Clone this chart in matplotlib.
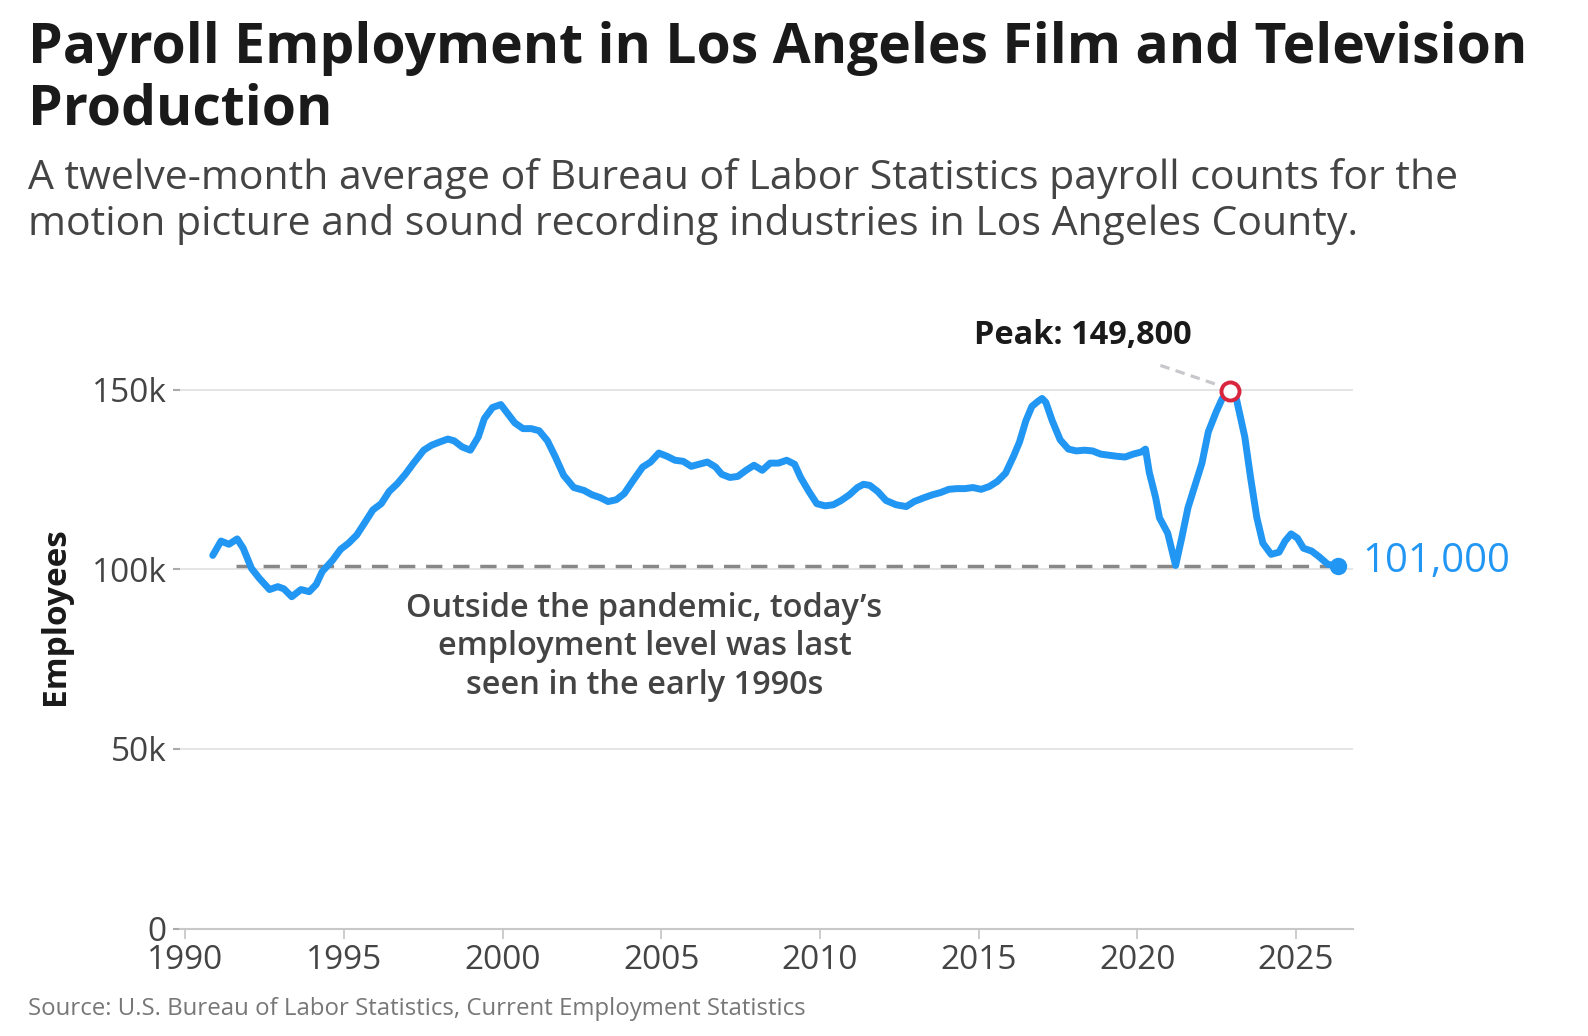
import matplotlib
matplotlib.use("Agg")
import matplotlib.pyplot as plt
from matplotlib.ticker import FuncFormatter

plt.rcParams['font.family'] = ['Open Sans', 'DejaVu Sans']

# twelve-month average
years = [1990.86, 1991.12, 1991.37, 1991.63, 1991.82, 1992.08, 1992.33, 1992.65, 1992.91, 1993.1,
         1993.35, 1993.64, 1993.9, 1994.12, 1994.31, 1994.63, 1994.89, 1995.14, 1995.4, 1995.65,
         1995.91, 1996.17, 1996.42, 1996.68, 1996.93, 1997.19, 1997.51, 1997.76, 1998.02, 1998.27,
         1998.47, 1998.72, 1998.98, 1999.23, 1999.42, 1999.68, 1999.94, 2000.13, 2000.38, 2000.64,
         2000.9, 2001.15, 2001.41, 2001.66, 2001.92, 2002.24, 2002.56, 2002.81, 2003.07, 2003.32,
         2003.58, 2003.83, 2004.09, 2004.41, 2004.66, 2004.92, 2005.18, 2005.43, 2005.69, 2005.94,
         2006.2, 2006.45, 2006.71, 2006.9, 2007.16, 2007.41, 2007.67, 2007.92, 2008.18, 2008.43,
         2008.69, 2008.95, 2009.2, 2009.39, 2009.65, 2009.9, 2010.16, 2010.42, 2010.67, 2010.93,
         2011.18, 2011.37, 2011.57, 2011.82, 2012.08, 2012.4, 2012.72, 2012.97, 2013.29, 2013.55,
         2013.8, 2014.06, 2014.31, 2014.57, 2014.82, 2015.08, 2015.34, 2015.59, 2015.85, 2016.1,
         2016.29, 2016.49, 2016.68, 2016.87, 2017.0, 2017.12, 2017.32, 2017.57, 2017.83, 2018.08,
         2018.34, 2018.59, 2018.85, 2019.1, 2019.36, 2019.62, 2019.87, 2020.13, 2020.26, 2020.38,
         2020.58, 2020.7, 2020.96, 2021.21, 2021.4, 2021.6, 2021.85, 2022.04, 2022.24, 2022.49,
         2022.68, 2022.91, 2023.13, 2023.39, 2023.58, 2023.77, 2023.96, 2024.22, 2024.47, 2024.66,
         2024.85, 2025.05, 2025.24, 2025.5, 2025.75, 2026.01, 2026.33]
employees = [103.9, 107.9, 107.0, 108.5, 105.9, 100.3, 97.5, 94.4, 95.2, 94.6,
             92.4, 94.4, 93.8, 95.8, 99.4, 102.5, 105.6, 107.3, 109.6, 113.0,
             116.6, 118.3, 121.7, 123.9, 126.5, 129.6, 133.2, 134.6, 135.5, 136.3,
             135.8, 134.1, 133.2, 136.9, 142.0, 145.1, 145.9, 143.7, 140.8, 139.2,
             139.2, 138.6, 135.8, 131.3, 126.2, 122.8, 122.0, 120.8, 120.0, 118.9,
             119.4, 121.1, 124.5, 128.5, 129.9, 132.4, 131.5, 130.4, 130.1, 128.7,
             129.3, 129.9, 128.5, 126.5, 125.6, 125.9, 127.6, 129.0, 127.6, 129.6,
             129.6, 130.4, 129.3, 125.6, 121.7, 118.3, 117.7, 118.0, 119.2, 120.8,
             122.8, 123.7, 123.4, 121.7, 119.2, 118.0, 117.5, 118.9, 120.0, 120.8,
             121.4, 122.3, 122.5, 122.5, 122.8, 122.3, 123.1, 124.5, 126.8, 131.5,
             135.5, 141.4, 145.4, 146.8, 147.6, 146.5, 141.4, 136.1, 133.5, 133.0,
             133.2, 133.0, 132.1, 131.8, 131.5, 131.3, 132.1, 132.7, 133.5, 127.0,
             120.0, 114.4, 110.1, 101.1, 108.7, 117.2, 124.2, 129.6, 138.3, 143.9,
             147.6, 149.8, 147.3, 136.9, 125.1, 114.4, 107.3, 104.2, 104.8, 107.9,
             109.9, 108.7, 105.9, 105.1, 103.4, 101.4, 101.0]
employees = [v * 1000 for v in employees]

peak_year, peak_value = 2022.91, 149800
latest_value = 101000
ref_start = 1991.6

x_ticks = [1990, 1995, 2000, 2005, 2010, 2015, 2020, 2025]
y_ticks = [0, 50000, 100000, 150000]

blue = "#2196f3"
text_dark = "#1a1a1a"
text_gray = "#444444"

fig = plt.figure(figsize=(15.88, 10.36), dpi=100)
ax = fig.add_axes([0.1136, 0.1037, 0.852 - 0.1136, 0.572])

for y in y_ticks[1:]:
    ax.axhline(y, color="#e3e3e3", linewidth=1.3, zorder=0)

ax.plot([ref_start, years[-1]], [latest_value, latest_value], color="#888888",
        linewidth=2.5, dashes=(4.7, 3.1), zorder=1)
ax.plot(years, employees, color=blue, linewidth=5, solid_joinstyle="round",
        solid_capstyle="round", zorder=3, clip_on=False)
ax.plot(years[-1], latest_value, "o", color=blue, markersize=11.5, zorder=4, clip_on=False)
ax.plot(peak_year, peak_value, "o", markerfacecolor="white", markeredgecolor="#d7263d",
        markeredgewidth=2.8, markersize=13, zorder=5, clip_on=False)

ax.set_xlim(1989.84, 2026.8)
ax.set_ylim(0, 165000)
ax.set_xticks(x_ticks)
ax.set_yticks(y_ticks)
ax.yaxis.set_major_formatter(FuncFormatter(lambda v, p: "0" if v == 0 else f"{int(v / 1000)}k"))

for s in ["top", "right", "left"]:
    ax.spines[s].set_visible(False)
ax.spines["bottom"].set_color("#c8c8c8")
ax.spines["bottom"].set_linewidth(1.5)
ax.tick_params(axis="x", colors="#c8c8c8", length=7, width=1.3, labelcolor=text_gray,
               labelsize=24, pad=4)
ax.tick_params(axis="y", colors="#aaaaaa", length=5, width=1.5, labelcolor=text_gray,
               labelsize=24, pad=5)

fig.text(55 / 1567, 0.405, "Employees", fontsize=24, fontweight="bold", color=text_dark,
         rotation=90, ha="center", va="center")

# annotations
ax.plot([2020.73, 2022.6], [156800, 151200], color="#c8c8cc", linewidth=2.3,
        dashes=(3, 2), zorder=2, clip_on=False)
ax.text(2018.3, 165200, "Peak: 149,800", fontsize=23.4, fontweight="bold", color=text_dark,
        ha="center", va="center")
ax.text(2027.1, 102100, "101,000", fontsize=29, color=blue, ha="left", va="center")
ax.text(2004.47, 78400, "Outside the pandemic, today\u2019s\nemployment level was last\nseen in the early 1990s",
        fontsize=23.4, fontweight="semibold", color=text_gray, ha="center", va="center",
        linespacing=1.21)

fig.text(28 / 1567, 1 - 62 / 1022, "Payroll Employment in Los Angeles Film and Television",
         fontsize=39.8, fontweight="bold", color=text_dark, ha="left", va="baseline")
fig.text(28 / 1567, 1 - 123 / 1022, "Production",
         fontsize=39.8, fontweight="bold", color=text_dark, ha="left", va="baseline")
fig.text(28 / 1567, 1 - 186 / 1022,
         "A twelve-month average of Bureau of Labor Statistics payroll counts for the",
         fontsize=29.5, color=text_gray, ha="left", va="baseline")
fig.text(28 / 1567, 1 - 232 / 1022,
         "motion picture and sound recording industries in Los Angeles County.",
         fontsize=29.5, color=text_gray, ha="left", va="baseline")
fig.text(28 / 1567, 1 - 995 / 1022, "Source: U.S. Bureau of Labor Statistics, Current Employment Statistics",
         fontsize=17.3, color="#777777", ha="left", va="center")

fig.savefig("out.png", dpi=100)
